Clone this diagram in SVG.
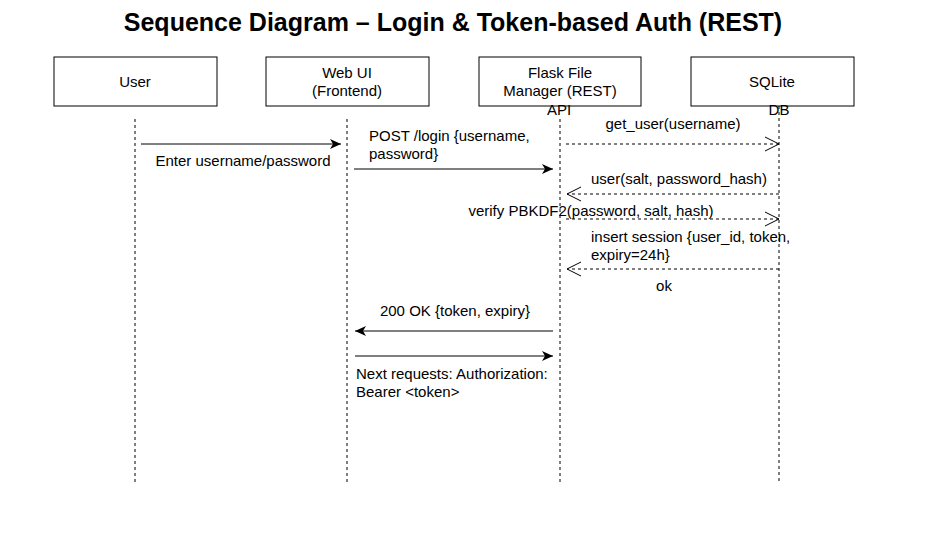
<svg xmlns="http://www.w3.org/2000/svg" width="925" height="536" viewBox="0 0 925 536">
<defs>
<style>
text{font-family:"Liberation Sans",Arial,sans-serif;font-size:15px;fill:#000}
.title{font-size:25px;font-weight:bold}
.box{fill:#fff;stroke:#000;stroke-width:1}
.life{stroke:#000;stroke-width:1;stroke-dasharray:3 3;fill:none}
.msg{stroke:#000;stroke-width:1;fill:none}
.dash{stroke-dasharray:3 3}
.m{text-anchor:middle}
</style>
<marker id="filled" markerWidth="12" markerHeight="10" refX="11" refY="5" orient="auto" markerUnits="userSpaceOnUse">
<path d="M0,0 L11,5 L0,10 L3,5 Z" fill="#000"/>
</marker>
<marker id="open" markerWidth="16" markerHeight="16" refX="14" refY="8" orient="auto" markerUnits="userSpaceOnUse">
<path d="M0,1 L14,8 L0,15" fill="none" stroke="#000" stroke-width="1"/>
</marker>
</defs>
<rect width="925" height="536" fill="#fff"/>
<text class="title m" x="453" y="31">Sequence Diagram – Login &amp; Token-based Auth (REST)</text>

<g id="user">
<rect class="box" x="54" y="57" width="163" height="49"/>
<text class="m" x="135" y="87">User</text>
<line class="life" x1="135" y1="119" x2="135" y2="482"/>
</g>
<g id="webui">
<rect class="box" x="266" y="57" width="163" height="49"/>
<text class="m" x="347" y="78">Web UI</text>
<text class="m" x="347" y="96">(Frontend)</text>
<line class="life" x1="347" y1="119" x2="347" y2="482"/>
</g>
<g id="flask">
<rect class="box" x="479" y="57" width="162" height="49"/>
<text class="m" x="560" y="78">Flask File</text>
<text class="m" x="560" y="96">Manager (REST)</text>
<text class="m" x="559" y="115">API</text>
<line class="life" x1="560" y1="119" x2="560" y2="482"/>
</g>
<g id="sqlite">
<rect class="box" x="691" y="57" width="163" height="49"/>
<text class="m" x="772" y="87">SQLite</text>
<text class="m" x="779" y="115">DB</text>
<line class="life" x1="779" y1="106" x2="779" y2="482"/>
</g>

<g id="connectors">
<line class="msg" x1="141" y1="144" x2="341" y2="144" marker-end="url(#filled)"/>
<text class="m" x="243" y="166">Enter username/password</text>

<line class="msg" x1="354" y1="169" x2="553" y2="169" marker-end="url(#filled)"/>
<text x="369" y="141">POST /login {username,</text>
<text x="369" y="159">password}</text>

<line class="msg dash" x1="566" y1="144" x2="779" y2="144" marker-end="url(#open)"/>
<text class="m" x="673" y="129">get_user(username)</text>

<line class="msg dash" x1="779" y1="194" x2="567" y2="194" marker-end="url(#open)"/>
<text x="591" y="184">user(salt, password_hash)</text>

<line class="msg dash" x1="566" y1="219" x2="779" y2="219" marker-end="url(#open)"/>
<text class="m" x="591" y="216">verify PBKDF2(password, salt, hash)</text>

<line class="msg dash" x1="779" y1="269" x2="567" y2="269" marker-end="url(#open)"/>
<text x="591" y="242">insert session {user_id, token,</text>
<text x="591" y="260">expiry=24h}</text>
<text class="m" x="664" y="291">ok</text>

<line class="msg" x1="553" y1="331" x2="355" y2="331" marker-end="url(#filled)"/>
<text class="m" x="455" y="316">200 OK {token, expiry}</text>

<line class="msg" x1="355" y1="356" x2="553" y2="356" marker-end="url(#filled)"/>
<text x="356" y="379">Next requests: Authorization:</text>
<text x="356" y="397">Bearer &lt;token&gt;</text>
</g>
</svg>
